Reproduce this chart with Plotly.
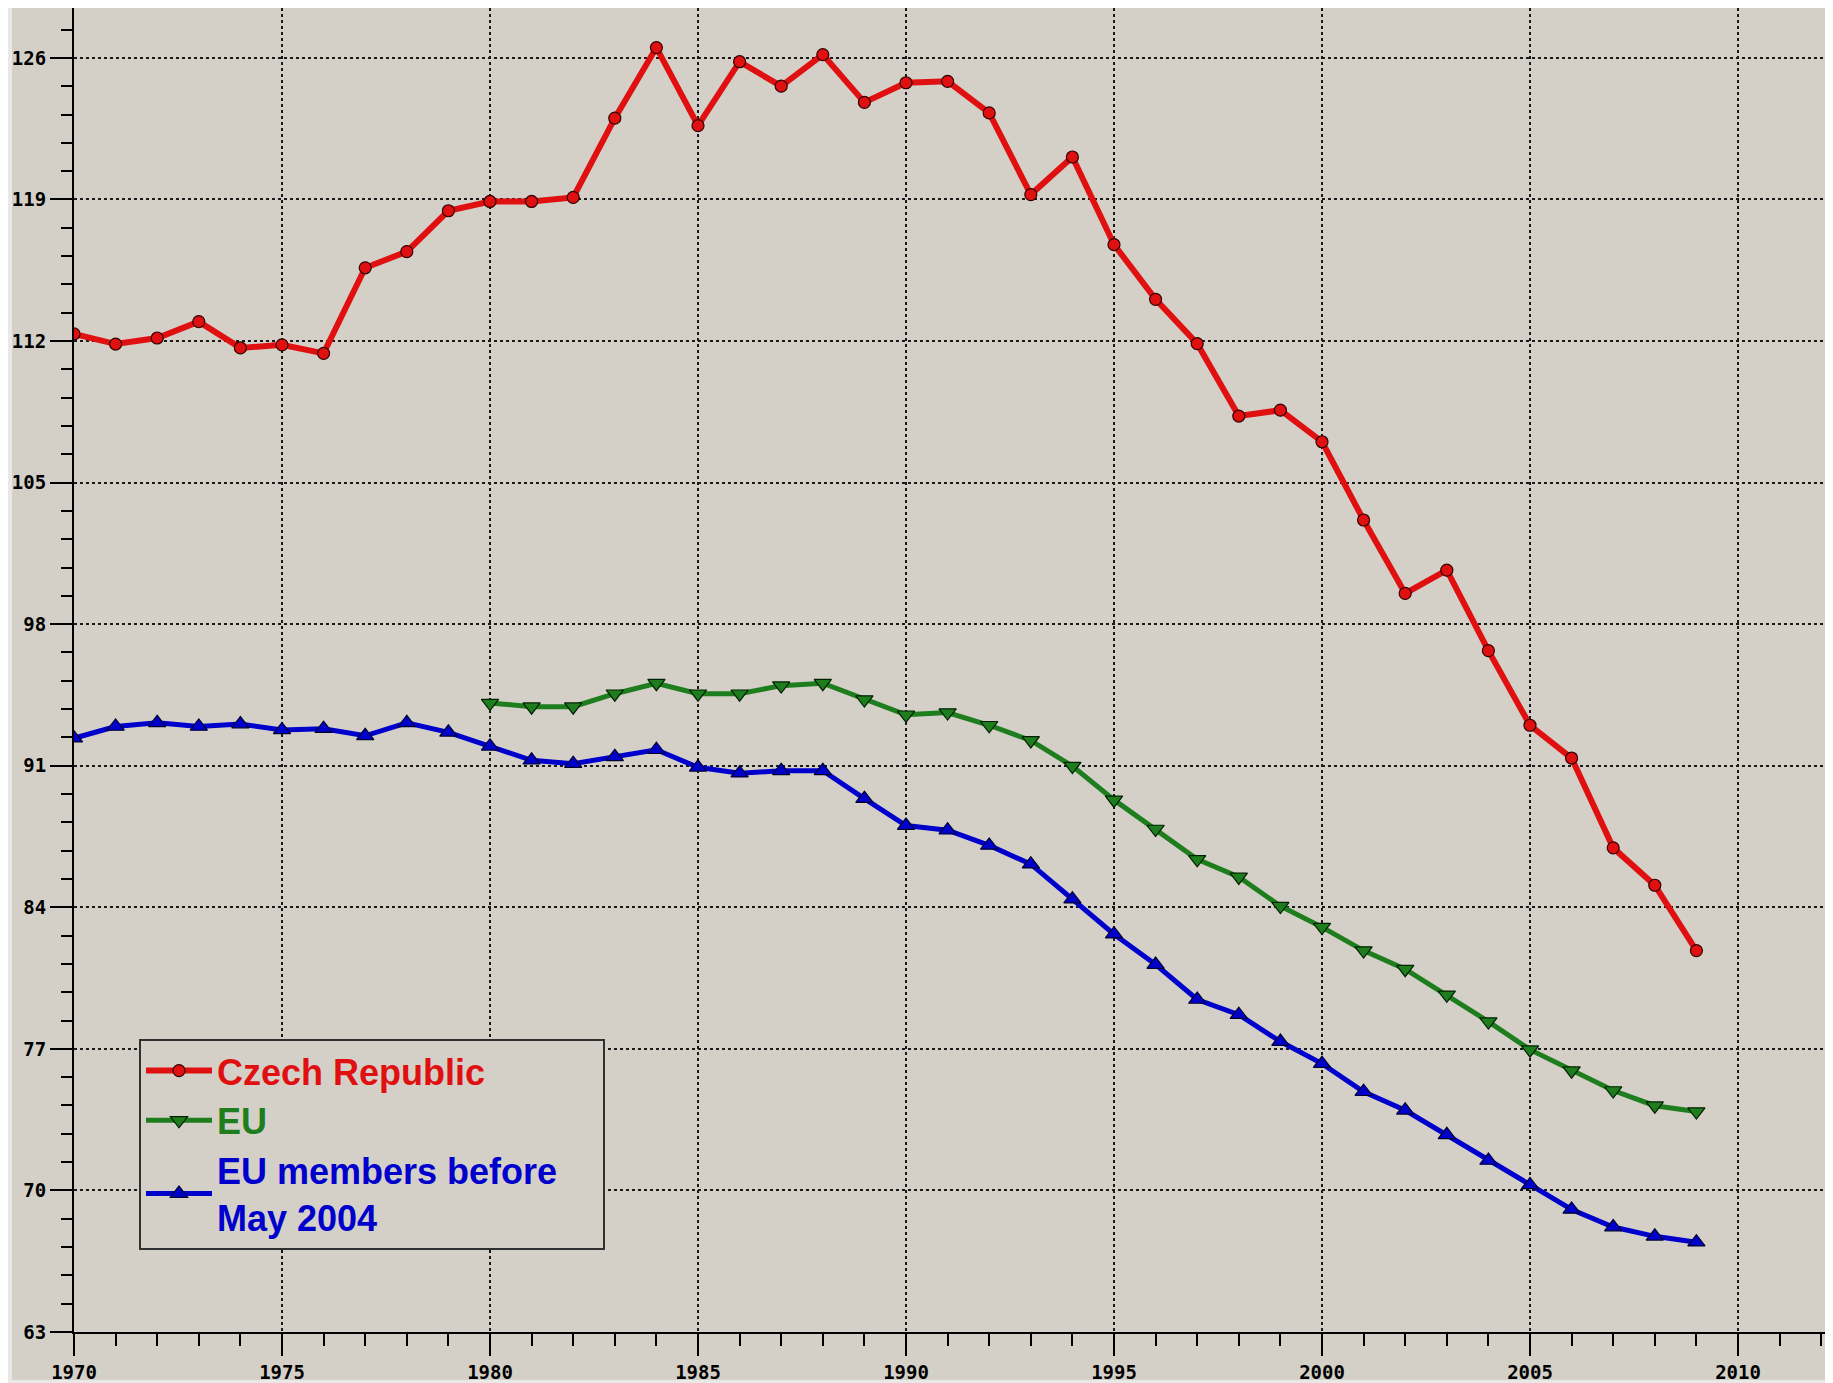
import plotly.graph_objects as go

# data
years_cz = list(range(1970, 2010))
czech = [112.35, 111.85, 112.15, 112.96, 111.66, 111.81, 111.39, 115.62, 116.42, 118.44,
         118.90, 118.90, 119.10, 123.02, 126.51, 122.65, 125.81, 124.60, 126.16, 123.80,
         124.77, 124.84, 123.28, 119.24, 121.10, 116.77, 114.06, 111.87, 108.29, 108.58,
         107.02, 103.15, 99.52, 100.67, 96.69, 93.00, 91.38, 86.94, 85.09, 81.86]

years_eu = list(range(1980, 2010))
eu = [94.10, 93.92, 93.92, 94.56, 95.08, 94.56, 94.56, 94.96, 95.08, 94.27,
      93.52, 93.63, 93.00, 92.25, 90.98, 89.31, 87.87, 86.37, 85.50, 84.06,
      83.02, 81.86, 80.94, 79.67, 78.35, 76.96, 75.92, 74.94, 74.19, 73.90]

years_old = list(range(1970, 2010))
eu_old = [92.36, 92.94, 93.12, 92.94, 93.06, 92.77, 92.83, 92.48, 93.12, 92.65,
          91.96, 91.27, 91.10, 91.44, 91.79, 90.92, 90.63, 90.75, 90.75, 89.37,
          88.04, 87.81, 87.06, 86.13, 84.40, 82.67, 81.17, 79.44, 78.69, 77.36,
          76.27, 74.88, 73.96, 72.75, 71.48, 70.27, 69.06, 68.19, 67.73, 67.44]

y_ticks = [63, 70, 77, 84, 91, 98, 105, 112, 119, 126]
x_ticks = [1970, 1975, 1980, 1985, 1990, 1995, 2000, 2005, 2010]

RED = '#E01010'
GREEN = '#1E7E1E'
BLUE = '#0000CC'
BG = '#D4D0C8'

# page body has an 8px margin, so the figure sits at (8, 8) in the window
W, H = 1825, 1375
ML, MR, MT, MB = 66, 0, 0, 48
PW, PH = W - ML - MR, H - MT - MB
PX_YEAR, PX_UNIT = 41.6, 20.27


def px(xf):   # figure x pixel -> paper fraction
    return (xf - ML) / PW


def py(yf):   # figure y pixel -> paper fraction
    return (H - MB - yf) / PH


fig = go.Figure()

fig.add_trace(go.Scatter(
    x=years_cz, y=czech, mode='lines+markers',
    name=f'<span style="color:{RED}">Czech Republic</span>',
    line=dict(color=RED, width=6),
    marker=dict(symbol='circle', size=12, color=RED, line=dict(color='#300000', width=1.2)),
))
fig.add_trace(go.Scatter(
    x=years_eu, y=eu, mode='lines+markers',
    name=f'<span style="color:{GREEN}">EU</span>',
    line=dict(color=GREEN, width=5),
    marker=dict(symbol='triangle-down', size=15, color=GREEN, line=dict(color='#002000', width=1.2)),
))
fig.add_trace(go.Scatter(
    x=years_old, y=eu_old, mode='lines+markers',
    name=f'<span style="color:{BLUE}">EU members before&nbsp;&nbsp;&nbsp;&nbsp;<br>May 2004</span>',
    line=dict(color=BLUE, width=5),
    marker=dict(symbol='triangle-up', size=15, color=BLUE, line=dict(color='#000030', width=1.2)),
))

tick_font = dict(family='DejaVu Sans Mono', size=19, color='black', weight='bold')
grid = dict(showgrid=True, gridcolor='#1a1a1a', gridwidth=1.5, griddash='3px,3px',
            zeroline=False, showline=True, linecolor='black', linewidth=2,
            ticks='outside', tickcolor='black', tickwidth=2, ticklen=22,
            tickfont=tick_font)

fig.update_xaxes(range=[1970, 1970 + PW / PX_YEAR], tickvals=x_ticks,
                 minor=dict(ticks='outside', ticklen=12, dtick=1, tick0=1970,
                            tickcolor='black', tickwidth=2, showgrid=False),
                 **grid)
fig.update_yaxes(range=[63, 63 + PH / PX_UNIT], tickvals=y_ticks,
                 minor=dict(ticks='outside', ticklen=11, dtick=1.4, tick0=63,
                            tickcolor='black', tickwidth=2, showgrid=False),
                 **grid)

# light strip on the far left like the original frame
fig.add_shape(type='rect', xref='paper', yref='paper',
              x0=px(4), x1=1, y0=py(H), y1=py(0),
              fillcolor=BG, line_width=0, layer='below')
# clear the grid behind the legend
fig.add_shape(type='rect', xref='paper', yref='paper',
              x0=px(115), x1=px(612), y0=py(1265), y1=py(999),
              fillcolor=BG, line_width=0, layer='between')

fig.update_layout(
    width=W, height=H,
    margin=dict(l=ML, r=MR, t=MT, b=MB),
    paper_bgcolor='#E8E8E8',
    plot_bgcolor=BG,
    legend=dict(
        x=px(131), y=py(1033),
        xanchor='left', yanchor='top',
        bgcolor=BG, bordercolor='#303030', borderwidth=2,
        font=dict(family='Liberation Sans', size=36, weight='bold'),
        itemwidth=66,
    ),
)

fig.write_html('out.html')
